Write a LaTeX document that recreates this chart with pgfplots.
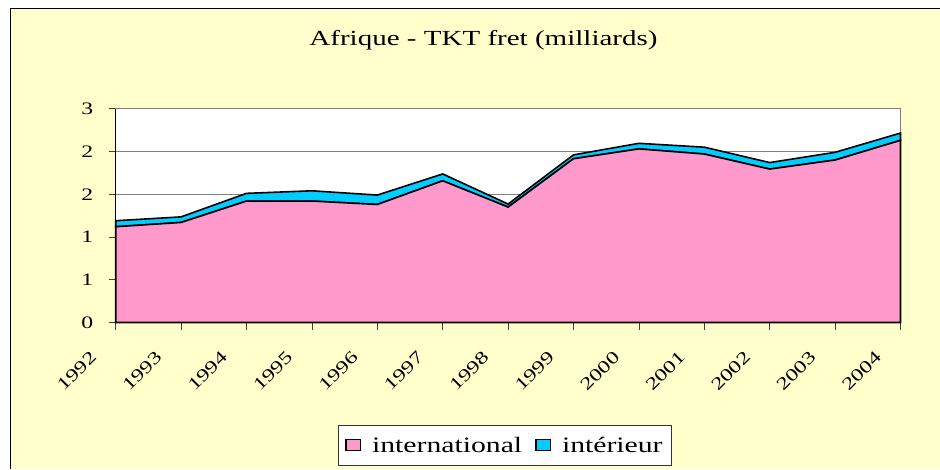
\documentclass[border=0pt]{standalone}
\usepackage{fontspec}
\setmainfont{Liberation Serif}[FakeStretch=1.35]
\usepackage{pgfplots}
\pgfplotsset{compat=1.18}
\definecolor{bgyellow}{HTML}{FFFFCC}
\definecolor{pinkA}{HTML}{FF99CC}
\definecolor{cyanA}{HTML}{00CCFF}
\definecolor{gridgray}{HTML}{808080}

\pgfplotstableread{
year intl
1992 1.12
1993 1.17
1994 1.42
1995 1.42
1996 1.38
1997 1.657
1998 1.35
1999 1.915
2000 2.03
2001 1.97
2002 1.794
2003 1.90
2004 2.13
}\intltable
\pgfplotstableread{
year inter
1992 0.07
1993 0.065
1994 0.09
1995 0.12
1996 0.11
1997 0.08
1998 0.035
1999 0.045
2000 0.065
2001 0.08
2002 0.076
2003 0.09
2004 0.085
}\intertable

\begin{document}
\begin{tikzpicture}
\useasboundingbox (0,0) rectangle (940pt,469pt);
\fill[white] (0,0) rectangle (940pt,469pt);
\fill[bgyellow] (10.5pt,0) rectangle (940pt,460.7pt);
\draw[black, line width=1.2pt] (10.5pt,0) -- (10.5pt,460.7pt) -- (940pt,460.7pt);
\node[anchor=base, font=\fontsize{21.5}{25}\selectfont, inner sep=0pt] at (483.5pt,423.3pt) {Afrique - TKT fret (milliards)};
\begin{axis}[
  at={(115.7pt,146.5pt)}, anchor=south west,
  scale only axis, width=784.8pt, height=213.8pt,
  xmin=1992, xmax=2004, ymin=0, ymax=2.5,
  clip=false,
  axis background/.style={fill=white},
  axis line style={gridgray, line width=1pt},
  ytick={0,0.5,1,1.5,2,2.5}, yticklabels={0,1,1,2,2,3},
  xtick={1992,1993,1994,1995,1996,1997,1998,1999,2000,2001,2002,2003,2004},
  xticklabels={1992,1993,1994,1995,1996,1997,1998,1999,2000,2001,2002,2003,2004},
  tick pos=left,
  tick align=outside, major tick length=7pt,
  tick style={black!75, line width=0.8pt},
  ymajorgrids, grid style={gridgray, line width=1.2pt},
  ticklabel style={font=\fontsize{17.5}{20}\selectfont},
  yticklabel style={anchor=east, inner sep=0pt, xshift=-15.4pt},
  xticklabel style={xshift=-26.5pt, yshift=-20.4pt, rotate=45, anchor=north east, inner sep=0pt},
  stack plots=y,
  legend columns=2,
  legend style={at={(0.496,-0.479)}, anchor=north, draw=black!80, line width=0.8pt,
    fill=white, font=\fontsize{22}{26}\selectfont,
    inner xsep=7pt, inner ysep=9.5pt,
    /tikz/every odd column/.append style={column sep=9pt},
    /tikz/every even column/.append style={column sep=11pt}},
  legend image code/.code={\draw[#1, line width=1.3pt] (0pt,-5.5pt) rectangle (14.5pt,6pt);},
]
\addplot[fill=pinkA, draw=black, line width=1.6pt] table[x=year, y=intl] {\intltable} \closedcycle;
\addplot[fill=cyanA, draw=black, line width=1.6pt] table[x=year, y=inter] {\intertable} \closedcycle;
\legend{international, intérieur\hspace{4pt}}
\draw[black, line width=1.5pt] (rel axis cs:0,1) -- (rel axis cs:0,0) -- (rel axis cs:1,0);
\end{axis}
\end{tikzpicture}
\end{document}
